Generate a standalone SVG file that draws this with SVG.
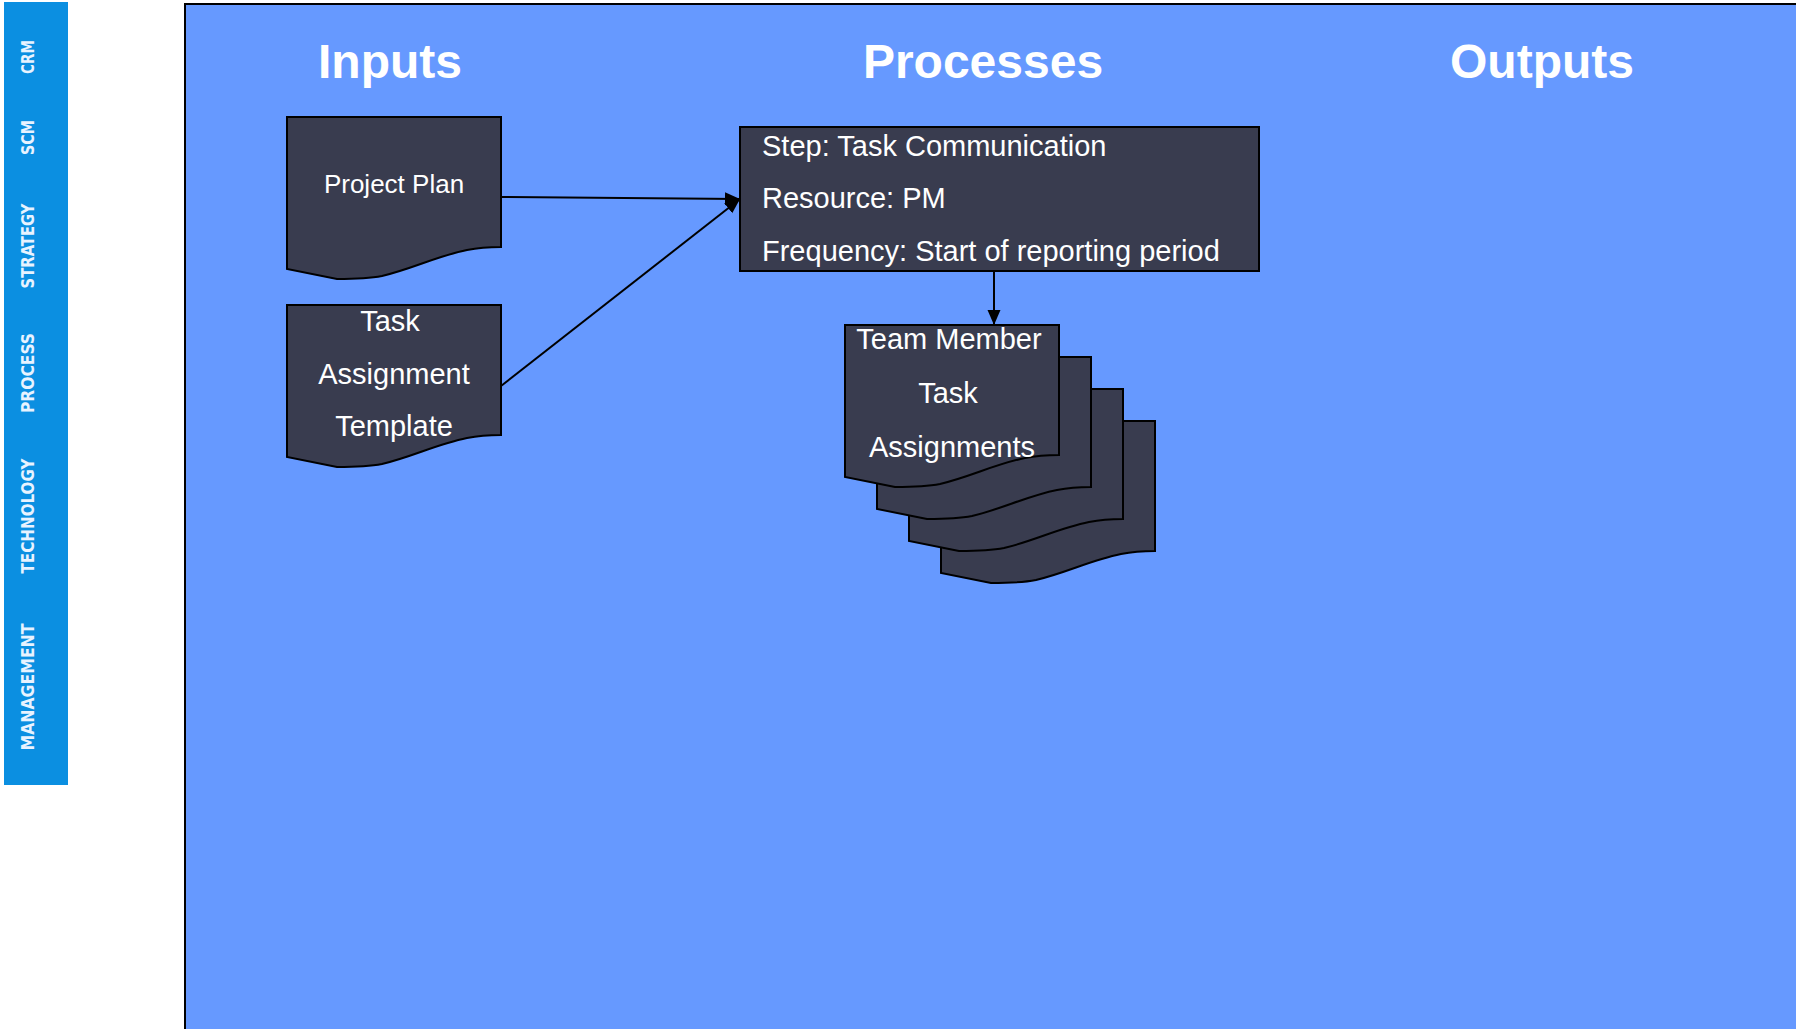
<svg xmlns="http://www.w3.org/2000/svg" width="1796" height="1029" viewBox="0 0 1796 1029">
<style>
.side{font-family:"DejaVu Sans Condensed","DejaVu Sans",sans-serif;font-weight:bold;font-size:18px;fill:#e8f3ff;text-anchor:middle}
.title{font-family:"Liberation Sans",Arial,sans-serif;font-weight:bold;font-size:48px;fill:#ffffff;text-anchor:middle}
.lbl{font-family:"Liberation Sans",Arial,sans-serif;font-size:29px;fill:#ffffff;text-anchor:middle}
.box-txt{font-family:"Liberation Sans",Arial,sans-serif;font-size:29px;fill:#ffffff}
.shape{fill:#393c4f;stroke:#000000;stroke-width:2}
.conn{stroke:#000000;stroke-width:2;fill:none}
</style>
<defs>
<path id="doc" d="M0,0 H214 V130 C200,130 190,131 180,133 C150,139 125,152 95,159 C80,162 65,162 50,162 L0,152 Z"/>
<marker id="arr" markerUnits="userSpaceOnUse" markerWidth="16" markerHeight="14" refX="15" refY="6.5" orient="auto">
<path d="M0,0 L15,6.5 L0,13 Z" fill="#000000"/>
</marker>
</defs>
<g id="sidebar">
<rect x="4" y="2" width="64" height="783" fill="#0b8fe1"/>
<text class="side" transform="translate(34,57) rotate(-90)" textLength="34" lengthAdjust="spacingAndGlyphs">CRM</text>
<text class="side" transform="translate(34,137.5) rotate(-90)" textLength="35" lengthAdjust="spacingAndGlyphs">SCM</text>
<text class="side" transform="translate(34,246) rotate(-90)" textLength="85" lengthAdjust="spacingAndGlyphs">STRATEGY</text>
<text class="side" transform="translate(34,373) rotate(-90)" textLength="80" lengthAdjust="spacingAndGlyphs">PROCESS</text>
<text class="side" transform="translate(34,516) rotate(-90)" textLength="115" lengthAdjust="spacingAndGlyphs">TECHNOLOGY</text>
<text class="side" transform="translate(34,687) rotate(-90)" textLength="127" lengthAdjust="spacingAndGlyphs">MANAGEMENT</text>
</g>
<g id="panel">
<rect x="185" y="4" width="1700" height="1100" fill="#6699ff" stroke="#000000" stroke-width="2"/>
<text class="title" x="390" y="78">Inputs</text>
<text class="title" x="983" y="78">Processes</text>
<text class="title" x="1542" y="78">Outputs</text>
</g>
<g id="connectors">
<line class="conn" x1="501" y1="197" x2="740" y2="199" marker-end="url(#arr)"/>
<line class="conn" x1="501" y1="386" x2="740" y2="199" marker-end="url(#arr)"/>
<line class="conn" x1="994" y1="271" x2="994" y2="325" marker-end="url(#arr)"/>
</g>
<g id="project-plan">
<use href="#doc" class="shape" x="287" y="117"/>
<text class="lbl" x="394" y="193" style="font-size:26px">Project Plan</text>
</g>
<g id="task-assignment-template">
<use href="#doc" class="shape" x="287" y="305"/>
<text class="lbl" x="390" y="331">Task</text>
<text class="lbl" x="394" y="384">Assignment</text>
<text class="lbl" x="394" y="436">Template</text>
</g>
<g id="task-communication">
<rect class="shape" x="740" y="127" width="519" height="144"/>
<text class="box-txt" x="762" y="156">Step: Task Communication</text>
<text class="box-txt" x="762" y="208">Resource: PM</text>
<text class="box-txt" x="762" y="261">Frequency: Start of reporting period</text>
</g>
<g id="team-member-task-assignments">
<use href="#doc" class="shape" x="941" y="421"/>
<use href="#doc" class="shape" x="909" y="389"/>
<use href="#doc" class="shape" x="877" y="357"/>
<use href="#doc" class="shape" x="845" y="325"/>
<text class="lbl" x="949" y="349">Team Member</text>
<text class="lbl" x="948" y="403">Task</text>
<text class="lbl" x="952" y="457">Assignments</text>
</g>
</svg>
